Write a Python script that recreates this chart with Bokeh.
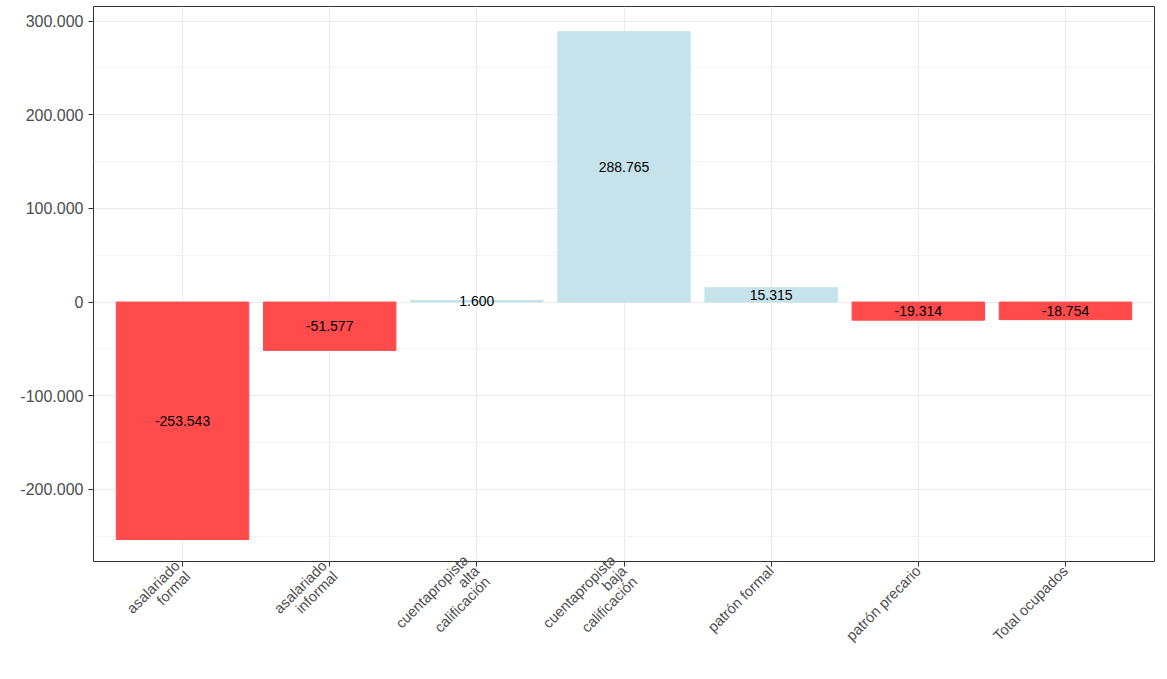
import math
from bokeh.plotting import figure
from bokeh.models import ColumnDataSource, FixedTicker, CustomJSTickFormatter
from bokeh.core.properties import value
from bokeh.embed import file_html
from bokeh.resources import INLINE

categories = ["asalariado\nformal", "asalariado\ninformal", "cuentapropista\nalta\ncalificación",
              "cuentapropista\nbaja\ncalificación", "patrón formal", "patrón precario", "Total ocupados"]
values = [-253543, -51577, 1600, 288765, 15315, -19314, -18754]
labels = ["-253.543", "-51.577", "1.600", "288.765", "15.315", "-19.314", "-18.754"]
yticks = [-200000, -100000, 0, 100000, 200000, 300000]

colors = ["#FF4B4B" if v < 0 else "#C6E3EC" for v in values]
src = ColumnDataSource(dict(x=categories, top=values, c=colors, lab=labels,
                            ly=[v / 2 for v in values]))

p = figure(x_range=categories, y_range=(-277000, 315600), width=1158, height=672,
           output_backend="svg", toolbar_location=None, min_border_left=93,
           min_border_top=6, min_border_right=4, min_border_bottom=0)
p.vbar(x="x", top="top", bottom=0, width=0.9, color="c", source=src)
p.text(x="x", y="ly", text="lab", source=src, text_align="center", text_baseline="middle",
       text_font=value("Liberation Sans"), text_font_size="10.5pt", text_color="black")

p.yaxis.ticker = FixedTicker(ticks=yticks, minor_ticks=[-250000, -150000, -50000, 50000, 150000, 250000])
p.yaxis.formatter = CustomJSTickFormatter(code="""
if (tick == 0) return '0';
const s = Math.abs(tick/1000).toFixed(0) + '.000';
return (tick < 0 ? '-' : '') + s;
""")
for ax in (p.xaxis, p.yaxis):
    ax.major_label_text_font = "Liberation Sans"
    ax.major_label_text_font_size = "12pt"
    ax.major_label_text_color = "#4D4D4D"
    ax.axis_line_color = None
    ax.minor_tick_line_color = None
    ax.major_tick_line_color = "#333333"
    ax.major_tick_in = 0
    ax.major_tick_out = 5
p.xaxis.major_label_text_font_size = "11pt"
p.xaxis.major_label_text_line_height = 0.95
p.xaxis.major_label_standoff = 2
p.xaxis.major_label_orientation = math.pi / 4
p.outline_line_color = "#333333"
p.outline_line_width = 1
p.xgrid.grid_line_color = "#EBEBEB"
p.ygrid.grid_line_color = "#EBEBEB"
p.ygrid.minor_grid_line_color = "#F3F3F3"
p.x_range.range_padding = 0.03

open("out.html", "w").write(file_html(p, INLINE))
